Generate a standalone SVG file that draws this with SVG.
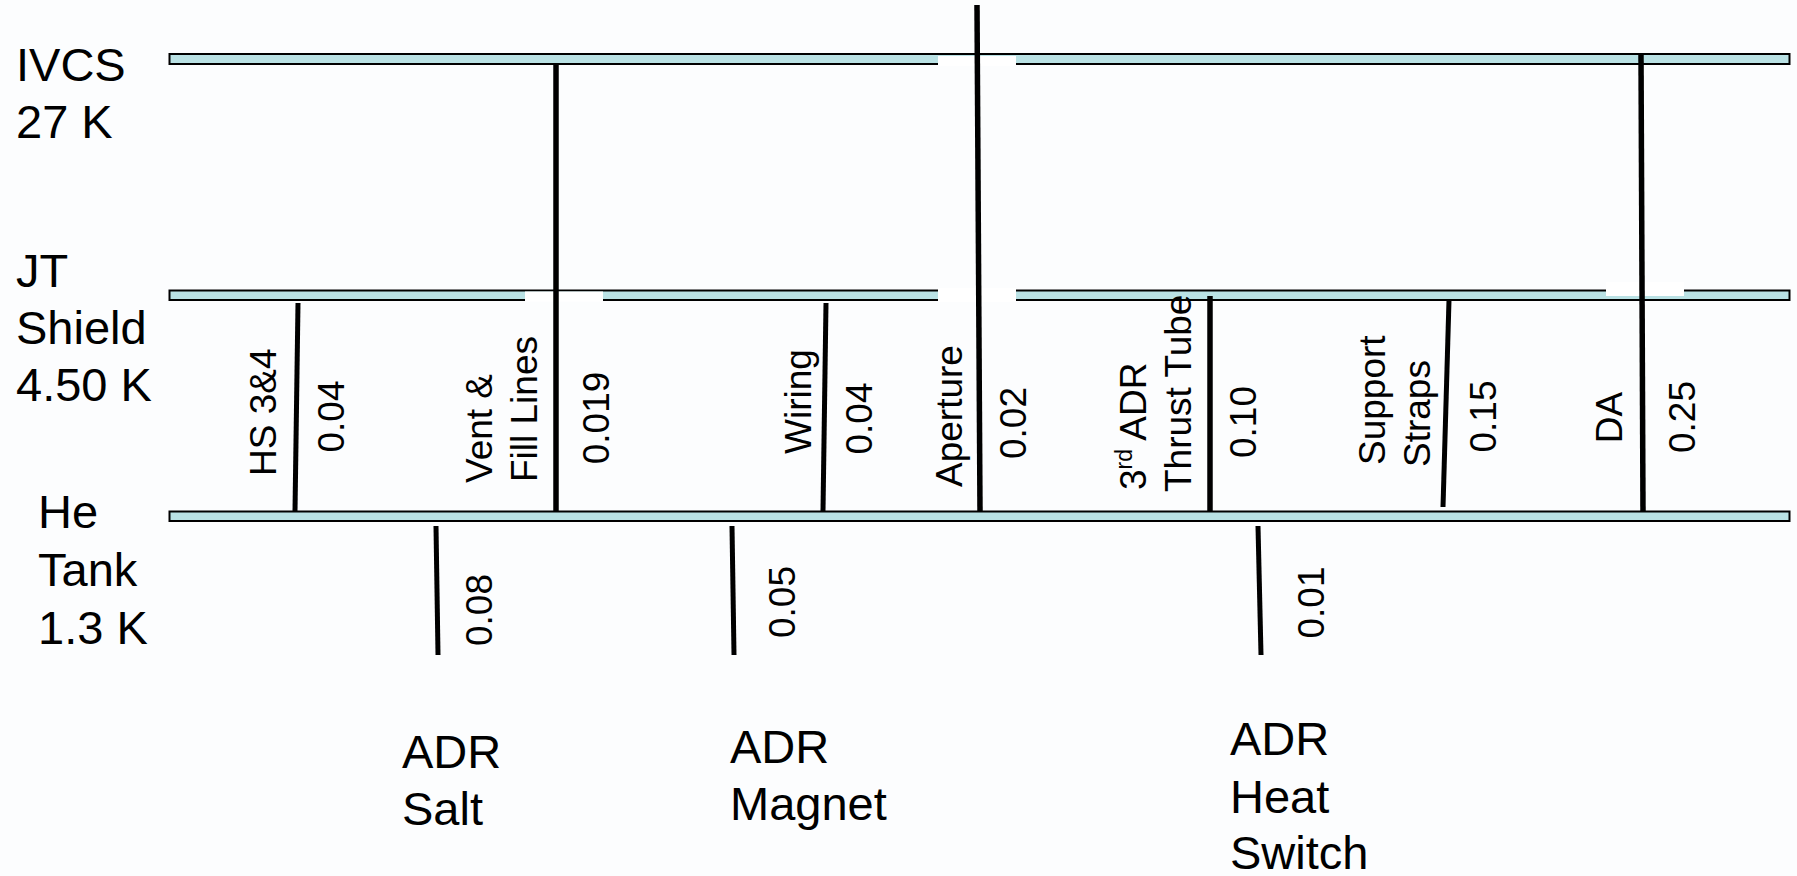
<svg xmlns="http://www.w3.org/2000/svg" width="1797" height="876" viewBox="0 0 1797 876">
<style>
.bar{fill:#b9e1e4;stroke:#000;stroke-width:2}
.gap{fill:#ffffff;stroke:none}
.ln{stroke:#000;stroke-width:5;fill:none}
.big{font-family:"Liberation Sans",Arial,sans-serif;font-size:47px;fill:#000}
.v{font-family:"Liberation Sans",Arial,sans-serif;font-size:37px;fill:#000}
.m{text-anchor:middle}
</style>
<rect x="0" y="0" width="1797" height="876" fill="#fcfdfe"/>
<g id="stage-ivcs">
<rect class="bar" x="169.5" y="54" width="1620" height="10"/>
<rect class="gap" x="938" y="56" width="78" height="10"/>
<text class="big" x="16" y="81">IVCS</text>
<text class="big" x="16" y="138">27 K</text>
</g>
<g id="stage-jt">
<rect class="bar" x="169.5" y="290.5" width="1620" height="9.5"/>
<rect class="gap" x="525" y="291.5" width="78" height="10"/>
<rect class="gap" x="938" y="288" width="78" height="14"/>
<rect class="gap" x="1606" y="282" width="78" height="14"/>
<text class="big" x="16" y="287">JT</text>
<text class="big" x="16" y="344">Shield</text>
<text class="big" x="16" y="401">4.50 K</text>
</g>
<g id="stage-he">
<rect class="bar" x="169.5" y="511.5" width="1620" height="9.5"/>
<text class="big" x="38" y="528">He</text>
<text class="big" x="38" y="586">Tank</text>
<text class="big" x="38" y="644">1.3 K</text>
</g>
<g id="node-adr-salt">
<text class="big" x="402" y="768">ADR</text>
<text class="big" x="402" y="825">Salt</text>
</g>
<g id="node-adr-magnet">
<text class="big" x="730" y="763">ADR</text>
<text class="big" x="730" y="820">Magnet</text>
</g>
<g id="node-adr-heat-switch">
<text class="big" x="1230" y="755">ADR</text>
<text class="big" x="1230" y="813">Heat</text>
<text class="big" x="1230" y="869">Switch</text>
</g>
<g id="connectors">
<line class="ln" x1="556" y1="64" x2="556" y2="511" style="stroke-width:5.5"/>
<line class="ln" x1="977" y1="5" x2="980" y2="511" style="stroke-width:5.5"/>
<line class="ln" x1="1641" y1="54" x2="1643" y2="511" style="stroke-width:5.5"/>
<line class="ln" x1="298" y1="303" x2="295" y2="511"/>
<line class="ln" x1="826" y1="303" x2="823" y2="511"/>
<line class="ln" x1="1210" y1="296" x2="1210" y2="511" style="stroke-width:5.5"/>
<line class="ln" x1="1449" y1="300" x2="1443" y2="507"/>
<line class="ln" x1="436" y1="526" x2="438" y2="655"/>
<line class="ln" x1="732" y1="526" x2="734" y2="655"/>
<line class="ln" x1="1258" y1="526" x2="1261" y2="655"/>
</g>
<g id="labels">
<text class="v" transform="translate(276,476) rotate(-90)">HS 3&amp;4</text>
<text class="v m" transform="translate(344,416.5) rotate(-90)">0.04</text>
<text class="v" transform="translate(492,483) rotate(-90)">Vent &amp;</text>
<text class="v" transform="translate(537,482) rotate(-90)">Fill Lines</text>
<text class="v m" transform="translate(609,418) rotate(-90)">0.019</text>
<text class="v m" transform="translate(492,610) rotate(-90)">0.08</text>
<text class="v" transform="translate(811,454) rotate(-90)">Wiring</text>
<text class="v m" transform="translate(872,418.5) rotate(-90)">0.04</text>
<text class="v" transform="translate(962,487) rotate(-90)">Aperture</text>
<text class="v m" transform="translate(1026,423) rotate(-90)">0.02</text>
<text class="v m" transform="translate(795,602) rotate(-90)">0.05</text>
<text class="v" transform="translate(1146,490) rotate(-90)">3<tspan font-size="23" dy="-14">rd</tspan><tspan dy="14"> ADR</tspan></text>
<text class="v" transform="translate(1191,492) rotate(-90)">Thrust Tube</text>
<text class="v m" transform="translate(1256,422) rotate(-90)">0.10</text>
<text class="v" transform="translate(1385,465) rotate(-90)">Support</text>
<text class="v" transform="translate(1430,467) rotate(-90)">Straps</text>
<text class="v m" transform="translate(1496,416.5) rotate(-90)">0.15</text>
<text class="v m" transform="translate(1324,602.5) rotate(-90)">0.01</text>
<text class="v m" transform="translate(1622,417.5) rotate(-90)">DA</text>
<text class="v m" transform="translate(1695,417) rotate(-90)">0.25</text>
</g>
</svg>
